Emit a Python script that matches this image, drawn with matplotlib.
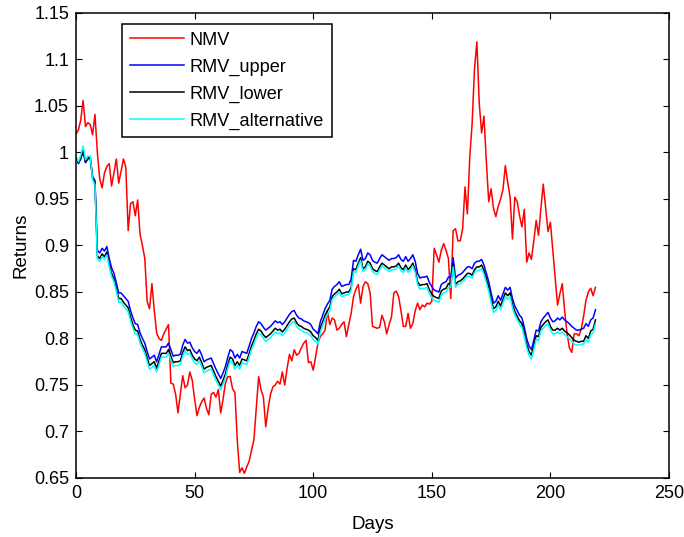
import matplotlib
matplotlib.use("Agg")
import matplotlib.pyplot as plt
import numpy as np

nmv = [
1.020,1.024,1.035,1.056,1.028,1.032,1.030,1.019,1.041,1.000,
0.972,0.962,0.978,0.985,0.988,0.964,0.978,0.993,0.967,0.980,
0.993,0.984,0.916,0.945,0.947,0.932,0.949,0.912,0.900,0.886,
0.840,0.832,0.859,0.830,0.806,0.800,0.798,0.805,0.810,0.815,
0.752,0.751,0.740,0.720,0.740,0.760,0.747,0.750,0.764,0.755,
0.735,0.717,0.726,0.732,0.736,0.725,0.718,0.740,0.742,0.737,
0.745,0.720,0.735,0.752,0.759,0.759,0.746,0.742,0.690,0.656,
0.661,0.655,0.662,0.668,0.680,0.691,0.725,0.759,0.745,0.737,
0.705,0.725,0.740,0.748,0.750,0.754,0.751,0.764,0.750,0.768,
0.783,0.776,0.788,0.782,0.784,0.790,0.795,0.798,0.774,0.775,
0.766,0.780,0.795,0.802,0.805,0.809,0.829,0.815,0.822,0.820,
0.809,0.811,0.815,0.818,0.802,0.815,0.827,0.845,0.853,0.858,
0.838,0.856,0.861,0.859,0.849,0.813,0.812,0.811,0.812,0.825,
0.818,0.805,0.815,0.823,0.849,0.851,0.845,0.830,0.813,0.813,
0.827,0.811,0.816,0.830,0.838,0.831,0.836,0.834,0.838,0.837,
0.840,0.897,0.890,0.882,0.895,0.902,0.895,0.886,0.843,0.916,
0.918,0.905,0.905,0.918,0.963,0.934,0.995,1.031,1.090,1.119,
1.053,1.021,1.039,0.990,0.947,0.961,0.940,0.931,0.942,0.950,
0.960,0.986,0.968,0.952,0.907,0.952,0.947,0.932,0.920,0.939,
0.882,0.892,0.885,0.905,0.927,0.911,0.940,0.966,0.940,0.915,
0.925,0.895,0.865,0.836,0.848,0.859,0.830,0.806,0.790,0.785,
0.805,0.805,0.803,0.810,0.824,0.841,0.850,0.854,0.846,0.855]

rmv_upper = [
0.994,0.988,0.993,1.001,0.989,0.993,0.994,0.974,0.970,0.895,
0.892,0.897,0.894,0.899,0.886,0.876,0.870,0.860,0.849,0.849,
0.846,0.843,0.840,0.830,0.822,0.816,0.815,0.806,0.800,0.795,
0.786,0.778,0.780,0.782,0.775,0.783,0.791,0.791,0.791,0.795,
0.788,0.781,0.782,0.782,0.783,0.793,0.799,0.795,0.796,0.790,
0.786,0.784,0.788,0.782,0.775,0.777,0.778,0.779,0.773,0.767,
0.762,0.757,0.763,0.770,0.780,0.788,0.786,0.779,0.783,0.779,
0.786,0.785,0.784,0.792,0.800,0.806,0.813,0.818,0.816,0.812,
0.809,0.811,0.813,0.816,0.819,0.817,0.818,0.815,0.818,0.822,
0.826,0.829,0.830,0.825,0.822,0.821,0.819,0.818,0.817,0.815,
0.810,0.808,0.805,0.818,0.825,0.832,0.837,0.841,0.853,0.856,
0.858,0.861,0.856,0.857,0.858,0.858,0.864,0.884,0.883,0.890,
0.896,0.884,0.886,0.892,0.890,0.884,0.882,0.881,0.886,0.890,
0.888,0.886,0.884,0.886,0.886,0.887,0.890,0.885,0.883,0.888,
0.883,0.886,0.890,0.883,0.870,0.865,0.866,0.866,0.867,0.860,
0.856,0.852,0.851,0.850,0.858,0.860,0.861,0.866,0.866,0.887,
0.865,0.868,0.869,0.871,0.874,0.877,0.877,0.875,0.881,0.883,
0.883,0.885,0.879,0.870,0.861,0.849,0.838,0.840,0.846,0.841,
0.848,0.855,0.852,0.855,0.843,0.835,0.830,0.825,0.822,0.812,
0.800,0.792,0.788,0.798,0.809,0.808,0.818,0.822,0.825,0.828,
0.822,0.818,0.819,0.822,0.820,0.823,0.820,0.818,0.816,0.813,
0.811,0.809,0.809,0.810,0.811,0.816,0.813,0.820,0.822,0.831]

rmv_lower = [
0.995,0.989,0.994,1.003,0.990,0.994,0.995,0.972,0.967,0.889,
0.886,0.891,0.888,0.893,0.880,0.870,0.864,0.854,0.843,0.843,
0.839,0.836,0.833,0.823,0.815,0.809,0.808,0.799,0.793,0.788,
0.779,0.771,0.773,0.775,0.768,0.776,0.784,0.784,0.784,0.788,
0.781,0.774,0.775,0.775,0.776,0.785,0.791,0.787,0.788,0.782,
0.778,0.776,0.780,0.774,0.767,0.769,0.770,0.771,0.765,0.759,
0.754,0.749,0.755,0.762,0.772,0.780,0.778,0.771,0.775,0.771,
0.778,0.777,0.776,0.784,0.792,0.798,0.805,0.810,0.808,0.804,
0.801,0.803,0.805,0.808,0.811,0.809,0.810,0.807,0.810,0.814,
0.818,0.821,0.822,0.817,0.814,0.813,0.811,0.810,0.809,0.807,
0.803,0.801,0.798,0.811,0.818,0.825,0.830,0.834,0.845,0.848,
0.850,0.853,0.848,0.849,0.850,0.850,0.855,0.875,0.874,0.881,
0.887,0.875,0.877,0.883,0.881,0.875,0.873,0.872,0.877,0.881,
0.879,0.877,0.875,0.877,0.877,0.878,0.881,0.876,0.874,0.879,
0.874,0.877,0.881,0.874,0.861,0.857,0.858,0.858,0.859,0.852,
0.848,0.845,0.844,0.843,0.851,0.853,0.854,0.859,0.859,0.880,
0.858,0.861,0.862,0.864,0.867,0.870,0.870,0.868,0.874,0.877,
0.877,0.879,0.873,0.864,0.855,0.843,0.832,0.834,0.840,0.835,
0.842,0.849,0.846,0.849,0.837,0.829,0.824,0.819,0.816,0.806,
0.794,0.786,0.782,0.792,0.803,0.802,0.812,0.815,0.818,0.820,
0.813,0.809,0.809,0.811,0.809,0.811,0.808,0.806,0.804,0.801,
0.798,0.797,0.796,0.797,0.797,0.803,0.800,0.808,0.810,0.820]

rmv_alternative = [
0.996,0.990,0.997,1.007,0.992,0.996,0.996,0.971,0.965,0.886,
0.883,0.888,0.885,0.890,0.877,0.867,0.861,0.851,0.839,0.839,
0.835,0.832,0.829,0.819,0.811,0.805,0.804,0.795,0.789,0.784,
0.775,0.767,0.769,0.771,0.764,0.772,0.780,0.780,0.780,0.784,
0.777,0.770,0.771,0.771,0.772,0.781,0.787,0.783,0.784,0.778,
0.774,0.772,0.776,0.770,0.763,0.765,0.766,0.767,0.761,0.755,
0.750,0.745,0.751,0.758,0.768,0.776,0.774,0.767,0.771,0.767,
0.774,0.773,0.772,0.780,0.788,0.794,0.801,0.806,0.804,0.800,
0.797,0.799,0.801,0.804,0.807,0.805,0.806,0.803,0.806,0.810,
0.814,0.817,0.818,0.813,0.810,0.809,0.807,0.806,0.805,0.803,
0.799,0.797,0.794,0.807,0.814,0.821,0.826,0.830,0.842,0.845,
0.847,0.850,0.845,0.846,0.847,0.847,0.852,0.872,0.871,0.878,
0.884,0.872,0.874,0.880,0.878,0.872,0.870,0.869,0.874,0.878,
0.876,0.874,0.872,0.874,0.874,0.875,0.878,0.873,0.871,0.876,
0.871,0.874,0.878,0.871,0.858,0.853,0.854,0.854,0.855,0.848,
0.844,0.841,0.840,0.839,0.847,0.849,0.850,0.855,0.855,0.877,
0.855,0.858,0.859,0.861,0.864,0.867,0.867,0.865,0.871,0.873,
0.873,0.875,0.869,0.860,0.851,0.839,0.828,0.830,0.836,0.831,
0.838,0.845,0.842,0.845,0.833,0.825,0.820,0.815,0.812,0.802,
0.790,0.782,0.778,0.788,0.799,0.798,0.808,0.811,0.814,0.816,
0.809,0.805,0.805,0.807,0.805,0.807,0.804,0.802,0.800,0.797,
0.794,0.793,0.793,0.794,0.794,0.799,0.796,0.804,0.806,0.816]

labels = ["NMV", "RMV_upper", "RMV_lower", "RMV_alternative"]
colors = ["#ff0000", "#0000ff", "#000000", "#00ffff"]
xticks = [0, 50, 100, 150, 200, 250]
yticks = [0.65, 0.7, 0.75, 0.8, 0.85, 0.9, 0.95, 1.0, 1.05, 1.1, 1.15]

plt.rcParams['font.family'] = ['Liberation Sans', 'DejaVu Sans']
plt.rcParams['font.size'] = 13

fig = plt.figure(figsize=(6.84, 5.37), dpi=100)
ax = fig.add_axes([76/684, 1 - 478/537, 593/684, 465/537])

series = [nmv, rmv_upper, rmv_lower, rmv_alternative]
for s, lab, c in zip(series, labels, colors):
    ax.plot(np.arange(len(s)), s, color=c, lw=1.1, label=lab)

ax.set_xlim(0, 250)
ax.set_ylim(0.65, 1.15)
ax.set_xticks(xticks)
ax.set_yticks(yticks)
ax.set_yticklabels(["%g" % v for v in yticks])
ax.set_xticklabels(["%g" % v for v in xticks])
ax.tick_params(direction='in', length=4.5, width=0.8, top=True, right=True,
               labelsize=13, pad=5)
for sp in ax.spines.values():
    sp.set_linewidth(1.1)
ax.set_xlabel("Days", fontsize=13.5, labelpad=10)
ax.set_ylabel("Returns", fontsize=13.5, labelpad=3)

leg = ax.legend(loc='upper left', bbox_to_anchor=(46/593, 454/465), borderaxespad=0,
                frameon=True, fancybox=False, edgecolor='black', framealpha=1,
                handlelength=3.0, handletextpad=0.3, labelspacing=0.54,
                borderpad=0.42, fontsize=13.1)
leg.get_frame().set_linewidth(1.1)

fig.savefig("out.png", dpi=100)
